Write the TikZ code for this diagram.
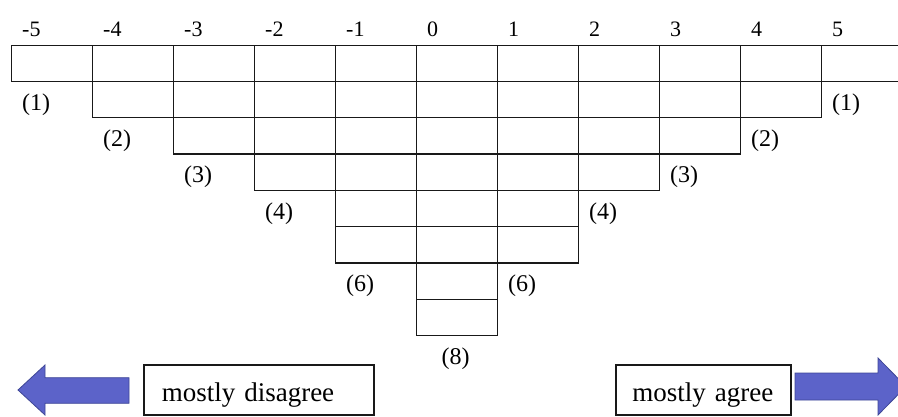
\documentclass[tikz,border=0pt]{standalone}
\usepackage{fontspec}
\setmainfont{Liberation Serif}
\usetikzlibrary{positioning}

\definecolor{arrowblue}{RGB}{92,99,201}
\definecolor{arrowedge}{RGB}{62,70,150}
\newcommand{\boxfont}{\fontsize{27}{29}\selectfont\fontdimen2\font=4.4pt\relax}

\begin{document}
\begin{tikzpicture}[x=1pt, y=-1pt,
    cell/.style = {draw=black!90, line width=1.35pt, anchor=north west,
        minimum width=81pt, minimum height=36.3pt, inner sep=0pt},
    numlabel/.style = {anchor=base west, inner sep=0pt,
        font=\fontsize{22}{24}\selectfont},
    countlabel/.style = {anchor=base west, inner sep=0pt,
        font=\fontsize{24}{26}\selectfont},
    textbox/.style = {draw=black!90, line width=1.5pt, anchor=base west,
        align=left, inner ysep=0pt, text height=36.7pt, text depth=13.3pt,
        font=\boxfont},
    bigarrow/.style = {fill=arrowblue, draw=arrowedge, line width=0.8pt}]
\useasboundingbox (0,0) rectangle (898,416);

% columns of cells, the number above and the count below
\foreach \c/\h/\dx [count=\i] in {-5/1/11, -4/2/11, -3/3/11, -2/4/11,
        -1/6/11, 0/8/25.5, 1/6/11, 2/4/11, 3/3/11, 4/2/11, 5/1/11} {
    \foreach \r in {1,...,\h}
        \node[cell] (cell\i-\r) at ({11+(\c+5)*81}, {44.5+(\r-1)*36.3}) {};
    \node[numlabel] (num\i) at ([xshift=11pt, yshift=8.5pt]cell\i-1.north west) {\c};
    \node[countlabel] (count\i) at ([xshift=\dx pt, yshift=-28pt]cell\i-\h.south west) {(\h)};
}

% boxes at the bottom
\node[textbox, inner xsep=18pt, text width=194pt] (disagree) at (143,401.7) {mostly disagree};
\node[textbox, inner xsep=16.7pt, text width=141.6pt] (agree) at (615,401.7) {mostly agree};

% block arrows
\draw[bigarrow] (18,390) -- (45,365) -- (45,377.7) -- (129,377.7)
    -- (129,403.3) -- (45,403.3) -- (45,415) -- cycle;
\draw[bigarrow] (906,386.5) -- (878,358) -- (878,373) -- (795,373)
    -- (795,400) -- (878,400) -- (878,415) -- cycle;
\end{tikzpicture}
\end{document}
